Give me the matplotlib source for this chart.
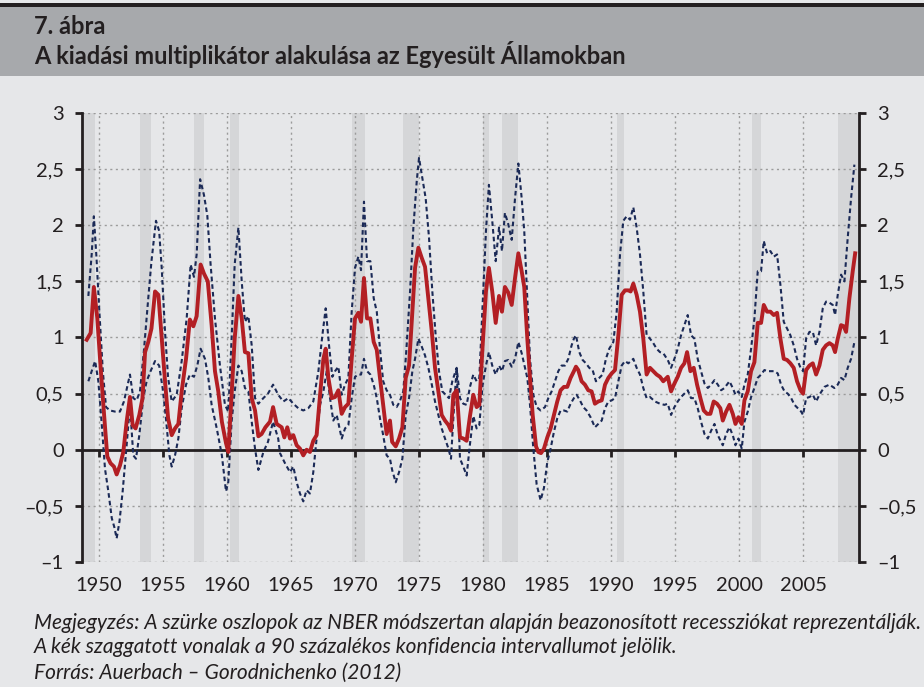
import numpy as np
import matplotlib
matplotlib.use("Agg")
import matplotlib.pyplot as plt
from matplotlib.patches import Rectangle

plt.rcParams['font.family'] = ['Lato', 'DejaVu Sans']

# -----------------------
# Data
# -----------------------
mean_years = [
    1949.04, 1949.35, 1949.60, 1949.87, 1950.13, 1950.40, 1950.65, 1950.90, 1951.17, 1951.38,
    1951.64, 1951.90, 1952.16, 1952.42, 1952.63, 1952.86, 1953.15, 1953.40, 1953.60, 1953.85,
    1954.10, 1954.38, 1954.64, 1954.90, 1955.16, 1955.40, 1955.68, 1955.94, 1956.20, 1956.46,
    1956.80, 1957.10, 1957.37, 1957.63, 1957.94, 1958.20, 1958.50, 1958.80, 1959.06, 1959.32,
    1959.60, 1959.92, 1960.10, 1960.36, 1960.60, 1960.89, 1961.15, 1961.40, 1961.67, 1961.93,
    1962.19, 1962.45, 1962.70, 1963.00, 1963.36, 1963.60, 1963.88, 1964.27, 1964.48, 1964.71,
    1964.92, 1965.18, 1965.44, 1965.70, 1965.96, 1966.22, 1966.48, 1966.74, 1967.00, 1967.27,
    1967.53, 1967.71, 1967.92, 1968.18, 1968.44, 1968.70, 1968.96, 1969.22, 1969.48, 1969.74,
    1970.00, 1970.26, 1970.47, 1970.70, 1970.94, 1971.20, 1971.46, 1971.70, 1971.95, 1972.20,
    1972.47, 1972.73, 1972.90, 1973.18, 1973.44, 1973.70, 1973.96, 1974.22, 1974.48, 1974.69,
    1974.95, 1975.21, 1975.47, 1975.73, 1976.00, 1976.25, 1976.51, 1976.77, 1977.03, 1977.30,
    1977.50, 1977.68, 1977.94, 1978.20, 1978.46, 1978.72, 1978.98, 1979.24, 1979.50, 1979.71,
    1979.97, 1980.23, 1980.46, 1980.72, 1980.99, 1981.25, 1981.48, 1981.71, 1981.97, 1982.24,
    1982.50, 1982.76, 1983.02, 1983.22, 1983.46, 1983.67, 1983.88, 1984.14, 1984.32, 1984.53,
    1984.76, 1985.02, 1985.28, 1985.54, 1985.80, 1986.06, 1986.32, 1986.58, 1986.84, 1987.10,
    1987.26, 1987.44, 1987.70, 1987.96, 1988.22, 1988.48, 1988.74, 1989.00, 1989.27, 1989.53,
    1989.79, 1990.05, 1990.31, 1990.57, 1990.83, 1991.09, 1991.35, 1991.53, 1991.74, 1992.00,
    1992.26, 1992.52, 1992.78, 1993.04, 1993.30, 1993.56, 1993.82, 1994.08, 1994.43, 1994.69,
    1994.95, 1995.21, 1995.47, 1995.73, 1995.94, 1996.20, 1996.46, 1996.72, 1996.98, 1997.24,
    1997.50, 1997.76, 1998.02, 1998.28, 1998.54, 1998.73, 1998.99, 1999.25, 1999.51, 1999.72,
    1999.95, 2000.21, 2000.42, 2000.68, 2000.94, 2001.20, 2001.46, 2001.72, 2001.93, 2002.19,
    2002.45, 2002.71, 2002.97, 2003.23, 2003.49, 2003.75, 2004.01, 2004.27, 2004.53, 2004.80,
    2005.00, 2005.24, 2005.50, 2005.76, 2006.02, 2006.28, 2006.54, 2006.80, 2007.06, 2007.32,
    2007.50, 2007.71, 2007.97, 2008.18, 2008.36, 2008.62, 2008.88, 2009.07,
]
mean_vals = [
    0.98, 1.04, 1.45, 1.17, 0.73, 0.31, -0.06, -0.12, -0.15, -0.22,
    -0.14, -0.02, 0.25, 0.47, 0.22, 0.19, 0.31, 0.46, 0.87, 0.96,
    1.08, 1.41, 1.38, 0.99, 0.61, 0.28, 0.13, 0.19, 0.23, 0.52,
    0.81, 1.16, 1.10, 1.19, 1.65, 1.57, 1.50, 1.11, 0.70, 0.52,
    0.25, 0.06, -0.02, 0.49, 0.99, 1.37, 1.17, 0.87, 0.86, 0.46,
    0.35, 0.12, 0.14, 0.20, 0.25, 0.38, 0.23, 0.20, 0.11, 0.20,
    0.10, 0.13, 0.04, 0.01, -0.05, 0.00, -0.02, 0.08, 0.13, 0.49,
    0.81, 0.90, 0.64, 0.46, 0.47, 0.53, 0.32, 0.38, 0.41, 0.81,
    1.17, 1.22, 1.14, 1.53, 1.17, 1.17, 0.96, 0.89, 0.64, 0.40,
    0.14, 0.26, 0.07, 0.03, 0.10, 0.20, 0.64, 0.75, 1.23, 1.62,
    1.80, 1.71, 1.63, 1.35, 1.05, 0.73, 0.52, 0.31, 0.26, 0.22,
    0.17, 0.49, 0.53, 0.11, 0.10, 0.08, 0.30, 0.49, 0.38, 0.40,
    0.93, 1.41, 1.62, 1.41, 1.13, 1.37, 1.23, 1.45, 1.40, 1.29,
    1.53, 1.75, 1.59, 1.45, 0.99, 0.64, 0.31, 0.03, -0.02, -0.03,
    0.01, 0.11, 0.19, 0.31, 0.43, 0.53, 0.56, 0.56, 0.64, 0.70,
    0.74, 0.71, 0.61, 0.58, 0.53, 0.52, 0.41, 0.43, 0.44, 0.58,
    0.64, 0.68, 0.71, 1.02, 1.38, 1.42, 1.42, 1.41, 1.48, 1.38,
    1.23, 0.99, 0.67, 0.73, 0.70, 0.67, 0.65, 0.61, 0.65, 0.52,
    0.59, 0.65, 0.73, 0.77, 0.87, 0.70, 0.73, 0.58, 0.46, 0.35,
    0.32, 0.32, 0.43, 0.41, 0.37, 0.26, 0.34, 0.40, 0.32, 0.23,
    0.29, 0.23, 0.44, 0.52, 0.70, 0.78, 1.13, 1.13, 1.29, 1.23,
    1.23, 1.20, 1.22, 0.99, 0.81, 0.80, 0.77, 0.73, 0.61, 0.53,
    0.50, 0.71, 0.75, 0.77, 0.67, 0.75, 0.89, 0.93, 0.95, 0.93,
    0.87, 0.99, 1.11, 1.10, 1.05, 1.35, 1.59, 1.75,
]

upper_years = [
    1949.17, 1949.43, 1949.60, 1949.80, 1950.03, 1950.30, 1950.55, 1950.86, 1951.25, 1951.64,
    1951.95, 1952.42, 1952.68, 1952.94, 1953.20, 1953.50, 1953.85, 1954.10, 1954.45, 1954.70,
    1954.90, 1955.16, 1955.40, 1955.68, 1956.07, 1956.46, 1956.85, 1957.16, 1957.42, 1957.63,
    1957.90, 1958.20, 1958.46, 1958.72, 1959.06, 1959.45, 1959.84, 1960.10, 1960.36, 1960.60,
    1960.89, 1961.15, 1961.40, 1961.67, 1961.93, 1962.19, 1962.45, 1962.84, 1963.20, 1963.60,
    1964.00, 1964.40, 1964.80, 1965.18, 1965.57, 1965.96, 1966.35, 1966.74, 1967.14, 1967.45,
    1967.71, 1967.97, 1968.23, 1968.44, 1968.70, 1968.96, 1969.22, 1969.48, 1969.74, 1970.00,
    1970.26, 1970.47, 1970.70, 1970.94, 1971.20, 1971.46, 1971.70, 1971.95, 1972.20, 1972.47,
    1972.73, 1972.99, 1973.25, 1973.50, 1973.77, 1974.00, 1974.30, 1974.56, 1974.82, 1975.00,
    1975.26, 1975.52, 1975.78, 1976.04, 1976.30, 1976.56, 1976.82, 1977.08, 1977.34, 1977.60,
    1977.94, 1978.20, 1978.46, 1978.72, 1978.98, 1979.24, 1979.50, 1979.71, 1979.97, 1980.23,
    1980.46, 1980.72, 1980.99, 1981.25, 1981.48, 1981.71, 1981.97, 1982.24, 1982.50, 1982.76,
    1983.02, 1983.22, 1983.46, 1983.67, 1983.93, 1984.19, 1984.50, 1984.84, 1985.10, 1985.36,
    1985.62, 1985.88, 1986.14, 1986.40, 1986.66, 1986.92, 1987.10, 1987.26, 1987.52, 1987.78,
    1988.04, 1988.30, 1988.56, 1988.82, 1989.08, 1989.34, 1989.60, 1989.86, 1990.18, 1990.44,
    1990.70, 1990.96, 1991.22, 1991.48, 1991.74, 1992.00, 1992.26, 1992.52, 1992.78, 1993.04,
    1993.30, 1993.56, 1993.82, 1994.08, 1994.43, 1994.69, 1994.95, 1995.21, 1995.47, 1995.73,
    1995.99, 1996.25, 1996.51, 1996.77, 1997.03, 1997.30, 1997.56, 1997.82, 1998.08, 1998.34,
    1998.60, 1998.86, 1999.25, 1999.51, 1999.72, 1999.95, 2000.21, 2000.42, 2000.68, 2000.94,
    2001.20, 2001.46, 2001.72, 2001.93, 2002.19, 2002.45, 2002.71, 2002.97, 2003.23, 2003.49,
    2003.75, 2004.01, 2004.27, 2004.53, 2004.80, 2005.00, 2005.24, 2005.50, 2005.76, 2006.02,
    2006.28, 2006.54, 2006.80, 2007.06, 2007.32, 2007.50, 2007.71, 2007.97, 2008.23, 2008.49,
    2008.75, 2009.01,
]
upper_vals = [
    1.37, 1.74, 2.08, 1.72, 1.23, 0.70, 0.38, 0.35, 0.34, 0.34,
    0.43, 0.67, 0.46, 0.44, 0.52, 0.87, 1.35, 1.68, 2.04, 1.95,
    1.62, 1.05, 0.64, 0.43, 0.49, 0.79, 1.17, 1.65, 1.54, 1.74,
    2.41, 2.27, 2.09, 1.65, 1.17, 0.75, 0.40, 0.34, 0.99, 1.65,
    1.98, 1.50, 1.14, 1.19, 0.93, 0.46, 0.41, 0.46, 0.50, 0.58,
    0.49, 0.43, 0.46, 0.41, 0.37, 0.35, 0.37, 0.43, 0.70, 1.02,
    1.26, 0.93, 0.65, 0.70, 0.74, 0.49, 0.58, 0.64, 1.23, 1.62,
    1.72, 1.60, 2.21, 1.68, 1.68, 1.35, 1.23, 0.90, 0.61, 0.53,
    0.49, 0.40, 0.38, 0.43, 0.52, 0.87, 1.41, 1.98, 2.39, 2.60,
    2.42, 2.24, 1.89, 1.41, 1.02, 0.70, 0.52, 0.49, 0.46, 0.61,
    0.73, 0.46, 0.41, 0.40, 0.56, 0.67, 0.61, 0.64, 1.29, 1.95,
    2.36, 2.04, 1.68, 1.98, 1.77, 2.11, 2.01, 1.87, 2.24, 2.55,
    2.24, 1.95, 1.35, 0.81, 0.49, 0.38, 0.35, 0.38, 0.46, 0.52,
    0.61, 0.70, 0.75, 0.75, 0.81, 0.93, 0.99, 1.02, 0.87, 0.80,
    0.77, 0.73, 0.71, 0.61, 0.64, 0.67, 0.81, 0.90, 0.96, 1.23,
    1.74, 2.04, 2.08, 2.05, 2.16, 1.98, 1.74, 1.41, 1.02, 0.99,
    0.95, 0.90, 0.87, 0.86, 0.80, 0.73, 0.81, 0.90, 1.02, 1.11,
    1.20, 1.02, 0.99, 0.81, 0.70, 0.59, 0.55, 0.58, 0.62, 0.58,
    0.53, 0.55, 0.61, 0.55, 0.49, 0.52, 0.47, 0.58, 0.67, 0.90,
    1.17, 1.59, 1.59, 1.86, 1.75, 1.77, 1.72, 1.74, 1.47, 1.14,
    1.08, 1.02, 0.93, 0.81, 0.73, 0.70, 0.99, 1.05, 1.05, 0.93,
    1.05, 1.26, 1.32, 1.31, 1.29, 1.20, 1.38, 1.56, 1.50, 1.89,
    2.24, 2.54,
]

lower_years = [
    1949.17, 1949.43, 1949.70, 1949.95, 1950.20, 1950.47, 1950.73, 1951.00, 1951.20, 1951.38,
    1951.60, 1951.85, 1952.16, 1952.42, 1952.68, 1952.89, 1953.15, 1953.46, 1953.72, 1954.03,
    1954.38, 1954.70, 1954.97, 1955.23, 1955.50, 1955.68, 1955.94, 1956.20, 1956.46, 1956.80,
    1957.10, 1957.42, 1957.68, 1957.94, 1958.28, 1958.54, 1958.80, 1959.20, 1959.60, 1959.92,
    1960.10, 1960.36, 1960.60, 1960.89, 1961.15, 1961.40, 1961.67, 1961.93, 1962.19, 1962.45,
    1962.84, 1963.20, 1963.60, 1964.00, 1964.14, 1964.53, 1964.92, 1965.18, 1965.44, 1965.70,
    1965.96, 1966.22, 1966.48, 1966.74, 1967.00, 1967.27, 1967.53, 1967.79, 1968.05, 1968.30,
    1968.57, 1968.96, 1969.22, 1969.48, 1969.74, 1970.00, 1970.26, 1970.47, 1970.70, 1970.94,
    1971.20, 1971.46, 1971.70, 1971.95, 1972.20, 1972.47, 1972.73, 1972.90, 1973.18, 1973.44,
    1973.70, 1973.96, 1974.22, 1974.48, 1974.69, 1974.95, 1975.21, 1975.47, 1975.73, 1976.00,
    1976.25, 1976.51, 1976.77, 1977.03, 1977.30, 1977.50, 1977.68, 1977.94, 1978.20, 1978.46,
    1978.72, 1978.98, 1979.24, 1979.50, 1979.71, 1979.97, 1980.23, 1980.46, 1980.72, 1980.99,
    1981.25, 1981.48, 1981.71, 1981.97, 1982.24, 1982.50, 1982.76, 1983.02, 1983.28, 1983.46,
    1983.67, 1983.93, 1984.19, 1984.50, 1984.76, 1985.02, 1985.28, 1985.54, 1985.80, 1986.06,
    1986.32, 1986.58, 1986.84, 1987.10, 1987.31, 1987.57, 1987.83, 1988.09, 1988.40, 1988.74,
    1989.00, 1989.27, 1989.53, 1989.79, 1990.05, 1990.31, 1990.57, 1990.83, 1991.09, 1991.35,
    1991.74, 1992.00, 1992.26, 1992.52, 1992.78, 1993.04, 1993.43, 1993.82, 1994.17, 1994.43,
    1994.69, 1994.95, 1995.21, 1995.47, 1995.73, 1995.99, 1996.25, 1996.51, 1996.77, 1997.03,
    1997.30, 1997.56, 1997.82, 1998.08, 1998.34, 1998.73, 1998.99, 1999.25, 1999.51, 1999.72,
    1999.95, 2000.21, 2000.42, 2000.68, 2000.94, 2001.20, 2001.46, 2001.72, 2001.98, 2002.24,
    2002.50, 2002.76, 2003.02, 2003.28, 2003.55, 2003.80, 2004.07, 2004.33, 2004.59, 2004.85,
    2005.00, 2005.24, 2005.50, 2005.76, 2006.02, 2006.28, 2006.67, 2007.06, 2007.45, 2007.71,
    2007.97, 2008.23, 2008.49, 2008.75, 2009.01,
]
lower_vals = [
    0.61, 0.70, 0.79, 0.61, 0.25, -0.17, -0.37, -0.61, -0.69, -0.79,
    -0.64, -0.37, 0.04, 0.40, -0.05, -0.08, 0.13, 0.46, 0.61, 0.70,
    0.79, 0.75, 0.55, 0.28, -0.05, -0.15, -0.05, 0.10, 0.37, 0.58,
    0.67, 0.65, 0.75, 0.90, 0.81, 0.64, 0.40, 0.19, -0.05, -0.37,
    -0.29, 0.25, 0.52, 0.75, 0.70, 0.55, 0.52, 0.25, 0.01, -0.18,
    -0.02, 0.07, 0.25, 0.10, -0.03, -0.12, -0.20, -0.15, -0.29, -0.39,
    -0.46, -0.36, -0.39, -0.20, 0.10, 0.40, 0.52, 0.70, 0.46, 0.26,
    0.31, 0.10, 0.19, 0.22, 0.46, 0.65, 0.67, 0.67, 0.81, 0.70,
    0.67, 0.58, 0.46, 0.28, 0.13, -0.05, -0.08, -0.18, -0.29, -0.20,
    -0.08, 0.31, 0.46, 0.70, 0.81, 0.99, 0.92, 0.84, 0.73, 0.58,
    0.43, 0.31, 0.19, 0.10, 0.01, -0.08, 0.28, 0.73, -0.08, -0.15,
    -0.23, 0.05, 0.30, 0.19, 0.22, 0.58, 0.75, 0.87, 0.75, 0.67,
    0.75, 0.70, 0.79, 0.80, 0.74, 0.81, 0.96, 0.86, 0.73, 0.64,
    0.40, 0.01, -0.31, -0.45, -0.34, -0.11, 0.01, 0.16, 0.28, 0.35,
    0.35, 0.34, 0.41, 0.46, 0.49, 0.44, 0.38, 0.35, 0.29, 0.20,
    0.23, 0.26, 0.37, 0.43, 0.44, 0.46, 0.61, 0.75, 0.79, 0.77,
    0.81, 0.73, 0.67, 0.55, 0.46, 0.47, 0.43, 0.41, 0.40, 0.41,
    0.31, 0.38, 0.43, 0.47, 0.50, 0.53, 0.46, 0.46, 0.37, 0.25,
    0.14, 0.10, 0.17, 0.23, 0.13, 0.04, 0.14, 0.20, 0.13, 0.04,
    0.10, 0.01, 0.25, 0.34, 0.47, 0.55, 0.64, 0.67, 0.71, 0.70,
    0.70, 0.70, 0.68, 0.58, 0.52, 0.50, 0.46, 0.40, 0.37, 0.34,
    0.31, 0.46, 0.47, 0.49, 0.43, 0.49, 0.56, 0.58, 0.55, 0.58,
    0.64, 0.62, 0.73, 0.81, 0.96,
]

# NBER recessions (start, end)
rec_start = [1948.75, 1953.2, 1957.45, 1960.2, 1969.75, 1973.75, 1980.0, 1981.5, 1990.5, 2001.0, 2007.75]
rec_end = [1949.7, 1954.1, 1958.2, 1960.9, 1970.75, 1975.0, 1980.5, 1982.75, 1991.0, 2001.75, 2009.4]

x_ticks = [1950, 1955, 1960, 1965, 1970, 1975, 1980, 1985, 1990, 1995, 2000, 2005]
y_ticks = [-1, -0.5, 0, 0.5, 1, 1.5, 2, 2.5, 3]
y_ticklabels = ['–1', '–0,5', '0', '0,5', '1', '1,5', '2', '2,5', '3']

fig_label = '7. ábra'
title = 'A kiadási multiplikátor alakulása az Egyesült Államokban'
note1 = 'Megjegyzés: A szürke oszlopok az NBER módszertan alapján beazonosított recessziókat reprezentálják.'
note2 = 'A kék szaggatott vonalak a 90 százalékos konfidencia intervallumot jelölik.'
source = 'Forrás: Auerbach – Gorodnichenko (2012)'

# -----------------------
# Figure
# -----------------------
W, H = 924, 687
BG = '#e6e7e9'
INK = '#231f20'
RED = '#b31f24'
NAVY = '#1b2a57'

fig = plt.figure(figsize=(W / 100, H / 100), dpi=100, facecolor=BG)

# header bar
fig.patches.append(Rectangle((0, 1 - 76 / H), 1, 69 / H, transform=fig.transFigure,
                             facecolor='#a7a9ac', edgecolor='none', zorder=0))
fig.patches.append(Rectangle((0, 1 - 7 / H), 1, 4 / H, transform=fig.transFigure,
                             facecolor=INK, edgecolor='none', zorder=1))
fig.text(34 / W, 1 - 27 / H, fig_label, fontsize=17, fontweight='bold', color=INK, va='center')
fig.text(34 / W, 1 - 55 / H, title, fontsize=17, fontweight='bold', color=INK, va='center')

left, right, top, bottom = 81.7, 859, 113, 562
ax = fig.add_axes([left / W, 1 - bottom / H, (right - left) / W, (bottom - top) / H])
ax.set_facecolor('none')
ax.set_xlim(1948.65, 2009.37)
ax.set_ylim(-1, 3)

for s, e in zip(rec_start, rec_end):
    ax.axvspan(s, e, facecolor='#d5d6d8', edgecolor='none', zorder=0.2)

ax.set_xticks(x_ticks)
ax.set_yticks(y_ticks)
ax.set_yticklabels(y_ticklabels)
ax.grid(True, color='#9b9b9b', linestyle=(0, (1.5, 2.5)), linewidth=1.0, zorder=0.5)
ax.set_axisbelow(True)

ax.plot(upper_years, upper_vals, color=NAVY, lw=1.5, dashes=(2.2, 1.5), zorder=3)
ax.plot(lower_years, lower_vals, color=NAVY, lw=1.5, dashes=(2.2, 1.5), zorder=3)
ax.plot(mean_years, mean_vals, color=RED, lw=2.8, zorder=4, solid_joinstyle='round')

for side in ['top', 'bottom']:
    ax.spines[side].set_visible(False)
for side in ['left', 'right']:
    ax.spines[side].set_linewidth(2)
    ax.spines[side].set_color(INK)

ax.tick_params(axis='y', left=True, right=True, labelleft=True, labelright=True,
               direction='out', length=5, width=2, pad=8, labelsize=14.5, colors=INK)
ax.tick_params(axis='x', length=0, pad=11, labelsize=14.5, colors=INK)

# zero line with year ticks
zero = ax.secondary_xaxis(0.25)
zero.set_xticks(x_ticks)
zero.tick_params(direction='out', length=5, width=2, labelbottom=False, color=INK)
zero.spines['bottom'].set_linewidth(2)
zero.spines['bottom'].set_color(INK)
zero.set_zorder(1)

fig.text(34 / W, 1 - 623 / H, note1, fontsize=15, style='italic', color=INK, va='center')
fig.text(34 / W, 1 - 647 / H, note2, fontsize=15, style='italic', color=INK, va='center')
fig.text(34 / W, 1 - 673 / H, source, fontsize=15, style='italic', color=INK, va='center')

fig.savefig('out.png', dpi=100, facecolor=BG)
